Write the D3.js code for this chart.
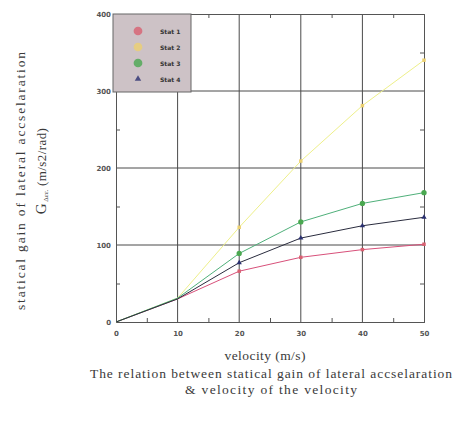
<!DOCTYPE html>
<html>
<head>
<meta charset="utf-8">
<script src="https://cdn.jsdelivr.net/npm/d3@7"></script>
<style>
  html, body { margin: 0; padding: 0; background: #fff; }
  svg { display: block; }
  .tick text { font-family: "DejaVu Sans", sans-serif; }
</style>
</head>
<body>
<svg id="chart" width="454" height="424"></svg>
<script>
// velocity (m/s)
const velocity = [0, 10, 20, 30, 40, 50];
// statical gain of lateral acceleration (m/s2/rad)
const stat1 = [0, 30, 66, 84, 94, 101];
const stat2 = [0, 31, 123, 209, 281, 340];
const stat3 = [0, 31, 89, 130, 154, 168];
const stat4 = [0, 30, 77, 109, 125, 136];
const seriesNames = ["Stat 1", "Stat 2", "Stat 3", "Stat 4"];
const xTicks = [0, 10, 20, 30, 40, 50];
const yTicks = [0, 100, 200, 300, 400];

const seriesValues = [stat1, stat2, stat3, stat4];
const lineColors = ["#d8507a", "#eef08a", "#4fb07a", "#2a2c3e"];
const markerColors = ["#d86070", "#ecd070", "#4aa850", "#2a3070"];
const markerShapes = [d3.symbolSquare, d3.symbolSquare, d3.symbolCircle, d3.symbolTriangle];

const svg = d3.select("#chart");
const plotLeft = 116, plotRight = 424, plotTop = 14, plotBottom = 322;

const x = d3.scaleLinear().domain([0, 50]).range([plotLeft, plotRight]);
const y = d3.scaleLinear().domain([0, 400]).range([plotBottom, plotTop]);

// grid lines
const grid = svg.append("g").attr("stroke", "#4a4a4a").attr("stroke-width", 1);
xTicks.slice(1, -1).forEach(v => {
  grid.append("line").attr("x1", x(v)).attr("x2", x(v)).attr("y1", plotTop).attr("y2", plotBottom);
});
yTicks.slice(1, -1).forEach(v => {
  grid.append("line").attr("x1", plotLeft).attr("x2", plotRight).attr("y1", y(v)).attr("y2", y(v));
});

// axes with inward minor ticks
const minorX = d3.range(5, 50, 10);
const minorY = d3.range(50, 400, 100);
const axisStyle = g => {
  g.select(".domain").attr("stroke", "#555");
  g.selectAll(".tick line").attr("stroke", "#555");
  g.selectAll(".tick text").attr("font-size", 7).attr("font-weight", "bold").attr("fill", "#555");
};

svg.append("g").attr("transform", `translate(0,${plotBottom})`)
  .call(d3.axisBottom(x).tickValues(xTicks).tickSize(0).tickPadding(9).tickFormat(d3.format("d")))
  .call(axisStyle);
svg.append("g").attr("transform", `translate(0,${plotBottom})`)
  .call(d3.axisBottom(x).tickValues(minorX).tickSize(-4).tickFormat(""))
  .call(axisStyle);
svg.append("g").attr("transform", `translate(0,${plotTop})`)
  .call(d3.axisTop(x).tickValues(minorX).tickSize(-4).tickFormat(""))
  .call(axisStyle);
svg.append("g").attr("transform", `translate(${plotLeft},0)`)
  .call(d3.axisLeft(y).tickValues(yTicks).tickSize(0).tickPadding(5).tickFormat(d3.format("d")))
  .call(axisStyle);
svg.append("g").attr("transform", `translate(${plotLeft},0)`)
  .call(d3.axisLeft(y).tickValues(minorY).tickSize(-4).tickFormat(""))
  .call(axisStyle);
svg.append("g").attr("transform", `translate(${plotRight},0)`)
  .call(d3.axisRight(y).tickValues(minorY).tickSize(-4).tickFormat(""))
  .call(axisStyle);

// series lines and markers
const line = d3.line().x((d, i) => x(velocity[i])).y(d => y(d));
seriesValues.forEach((vals, s) => {
  svg.append("path").datum(vals)
    .attr("fill", "none")
    .attr("stroke", lineColors[s])
    .attr("stroke-width", 1)
    .attr("d", line);
  svg.append("g").selectAll("path").data(vals.slice(2)).join("path")
    .attr("transform", (d, i) => `translate(${x(velocity[i + 2])},${y(d)})`)
    .attr("d", d3.symbol().type(markerShapes[s]).size(s === 2 ? 22 : 12))
    .attr("fill", markerColors[s]);
});

// legend
const lg = svg.append("g");
lg.append("rect").attr("x", 113).attr("y", 14).attr("width", 78).attr("height", 78)
  .attr("fill", "#cdc2c6").attr("stroke", "#666").attr("stroke-width", 1);
seriesNames.forEach((name, s) => {
  const cy = 31 + s * 16;
  lg.append("path")
    .attr("transform", `translate(138,${cy})`)
    .attr("d", d3.symbol().type(s === 3 ? d3.symbolTriangle : d3.symbolCircle).size(s === 3 ? 18 : 60))
    .attr("fill", markerColors[s]).attr("opacity", 0.8);
  lg.append("text").attr("x", 160).attr("y", cy + 2.5)
    .attr("font-family", "DejaVu Sans, sans-serif").attr("font-size", 6).attr("font-weight", "bold")
    .attr("fill", "#333").text(name);
});

// titles
const serif = "Liberation Serif, Times New Roman, serif";
const label = (tx, ty, rot, txt, len) => svg.append("text")
  .attr("transform", `translate(${tx},${ty}) rotate(${rot})`)
  .attr("text-anchor", "middle").attr("font-family", serif).attr("font-size", 13.5)
  .attr("fill", "#3a3a3a").attr("textLength", len).attr("lengthAdjust", "spacing")
  .text(txt);

label(25, 181, -90, "statical gain of lateral accselaration", 258);

const g2 = svg.append("text").attr("transform", "translate(46,171) rotate(-90)")
  .attr("text-anchor", "middle").attr("font-family", serif).attr("font-size", 13)
  .attr("fill", "#3a3a3a");
g2.append("tspan").attr("font-size", 15).text("G");
g2.append("tspan").attr("font-size", 7).attr("dy", 2).text(" \u0394\u03b5\u03b5.");
g2.append("tspan").attr("dy", -2).attr("letter-spacing", 0.4).text("   (m/s2/rad)");

label(265, 360, 0, "velocity (m/s)", 81);
label(271, 378, 0, "The relation between statical gain of lateral accselaration", 362);
label(271, 394, 0, "& velocity of the velocity", 172);
</script>
</body>
</html>
